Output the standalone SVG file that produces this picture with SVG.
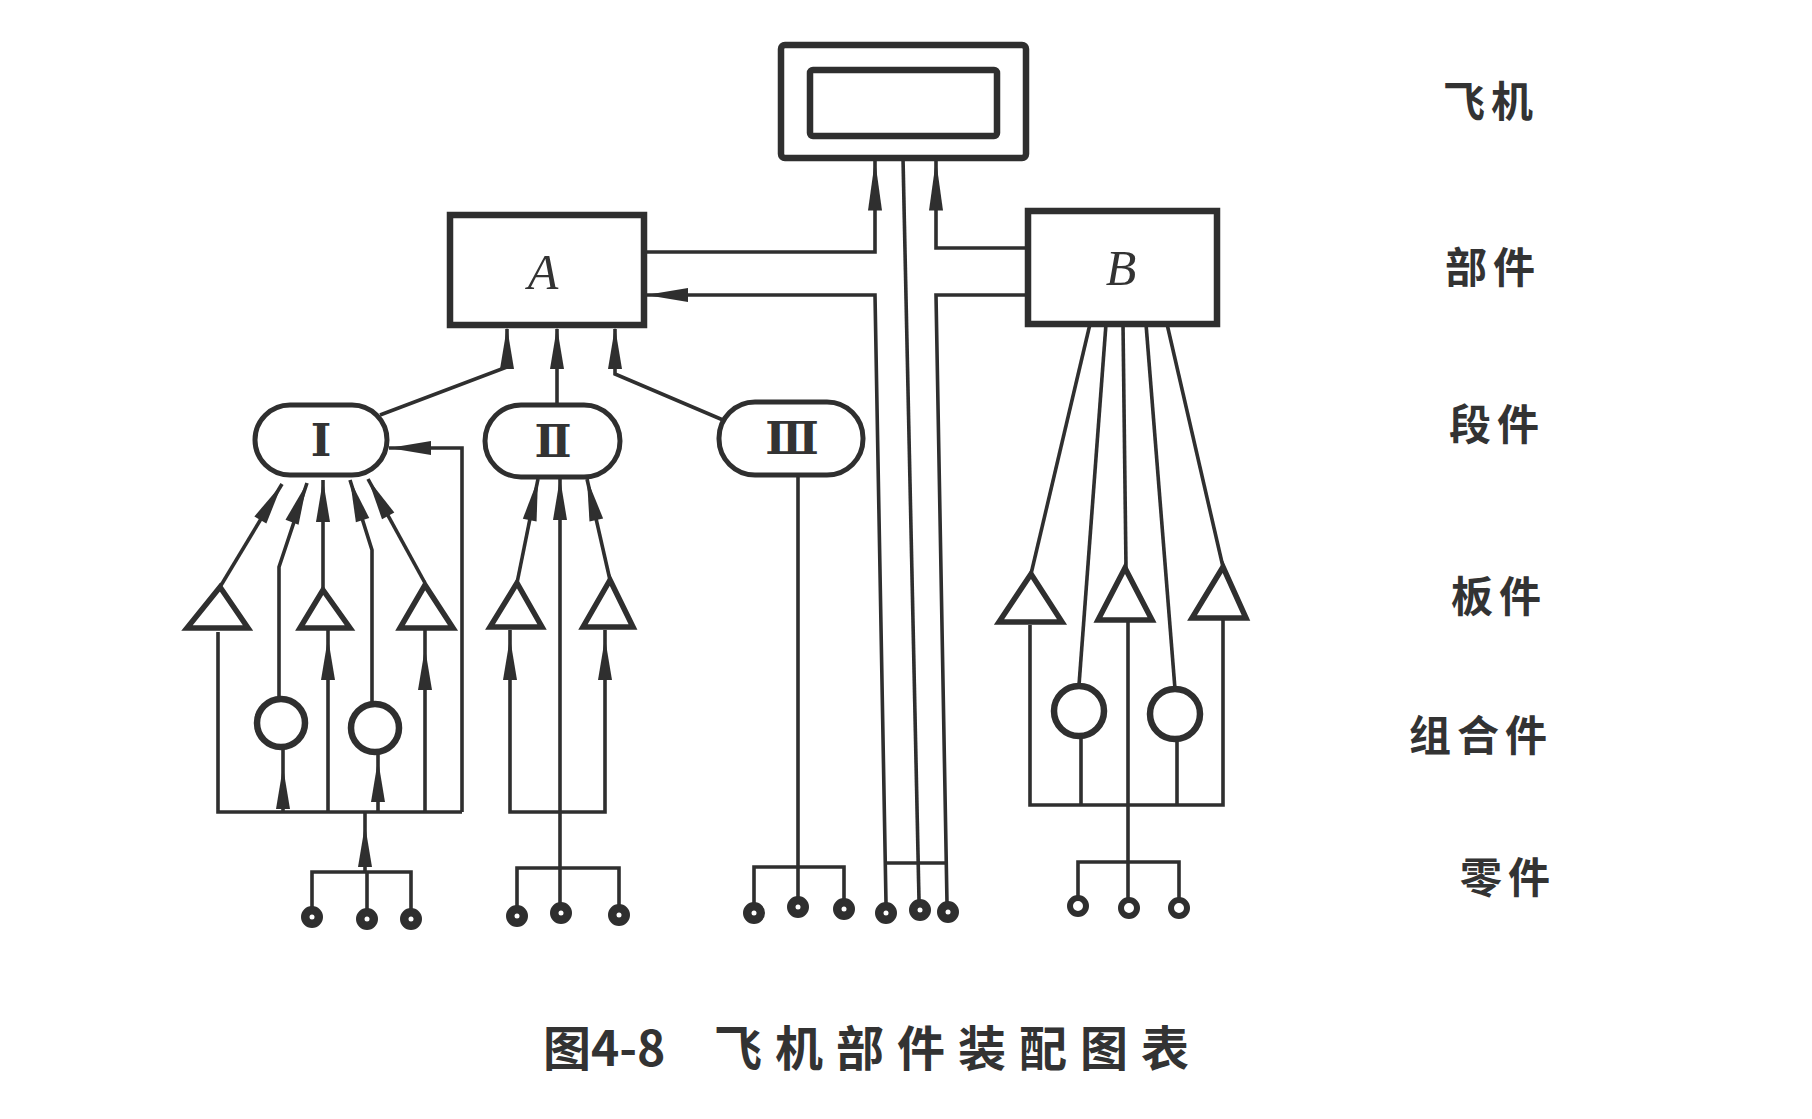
<svg xmlns="http://www.w3.org/2000/svg" xmlns:xlink="http://www.w3.org/1999/xlink" width="1812" height="1119" viewBox="0 0 1812 1119">
<style>
.ln{fill:none;stroke:#2f2f2f;stroke-width:3.6;stroke-linejoin:miter}
.box{fill:none;stroke:#2f2f2f;stroke-width:6.5}
.pill{fill:#fff;stroke:#2f2f2f;stroke-width:5}
.tri{fill:#fff;stroke:#2f2f2f;stroke-width:5.5;stroke-linejoin:miter}
.ring{fill:#fff;stroke:#2f2f2f;stroke-width:6.5}
.part{fill:#2f2f2f;stroke:#2f2f2f;stroke-width:2}
.partr{fill:#fff;stroke:#2f2f2f;stroke-width:6}
.ah{fill:#2f2f2f}
.lvl{font-family:"Noto Sans CJK SC",sans-serif;font-size:42px;font-weight:700;fill:#333;letter-spacing:6px}
.cap{font-family:"Noto Sans CJK SC",sans-serif;font-size:48px;font-weight:700;fill:#333}
.it{font-family:"Liberation Serif",serif;font-style:italic;font-size:50px;fill:#333}
.rn{font-family:"Liberation Serif","DejaVu Serif","Noto Sans CJK SC",serif;font-size:44px;font-weight:700;fill:#333}
</style>
<defs>
<path id="ah" class="ah" d="M0,0 L7,42 L-7,42 Z"/>
</defs>
<rect width="1812" height="1119" fill="#fff"/>

<g id="connectors">
  <path class="ln" d="M644,252 H875 V158"/>
  <path class="ln" d="M646,295 H875 L886,903"/>
  <path class="ln" d="M903,158 L919,900"/>
  <path class="ln" d="M1028,248 H936 V158"/>
  <path class="ln" d="M1028,295 H936 L947,903"/>
  <path class="ln" d="M885,863 H946"/>
  <path class="ln" d="M507,329 V367 L380,415"/>
  <path class="ln" d="M557,329 V405"/>
  <path class="ln" d="M615,329 V374 L723,420"/>
  <path class="ln" d="M389,448 H462 V812"/>
  <path class="ln" d="M220,587 L282,484"/>
  <path class="ln" d="M279,698 V567 L307,483"/>
  <path class="ln" d="M323,590 V480"/>
  <path class="ln" d="M372,703 V550 L350,480"/>
  <path class="ln" d="M425,583 L368,479"/>
  <path class="ln" d="M218,632 V812 H462"/>
  <path class="ln" d="M283,748 V812"/>
  <path class="ln" d="M328,630 V812"/>
  <path class="ln" d="M378,753 V812"/>
  <path class="ln" d="M425,630 V812"/>
  <path class="ln" d="M365,812 V872"/>
  <path class="ln" d="M312,907 V872 H411 V909"/>
  <path class="ln" d="M367,872 V909"/>
  <path class="ln" d="M517,583 L538,479"/>
  <path class="ln" d="M560,478 V903"/>
  <path class="ln" d="M610,580 L587,479"/>
  <path class="ln" d="M510,630 V812 H605 V630"/>
  <path class="ln" d="M517,906 V868 H619 V905"/>
  <path class="ln" d="M798,475 V897"/>
  <path class="ln" d="M754,903 V867 H844 V899"/>
  <path class="ln" d="M1090,324 L1031,574"/>
  <path class="ln" d="M1106,324 L1079,685"/>
  <path class="ln" d="M1123,324 L1126,568"/>
  <path class="ln" d="M1146,324 L1175,689"/>
  <path class="ln" d="M1167,324 L1223,567"/>
  <path class="ln" d="M1030,625 V805 H1223 V620"/>
  <path class="ln" d="M1081,737 V805"/>
  <path class="ln" d="M1177,740 V805"/>
  <path class="ln" d="M1128,622 V898"/>
  <path class="ln" d="M1078,896 V862 H1179 V898"/>
  <use xlink:href="#ah" transform="translate(875,160) scale(1,1.2)"/>
  <use xlink:href="#ah" transform="translate(936,160) scale(1,1.2)"/>
  <use xlink:href="#ah" transform="translate(646,295) rotate(-90)"/>
  <use xlink:href="#ah" transform="translate(507,327)"/>
  <use xlink:href="#ah" transform="translate(557,327)"/>
  <use xlink:href="#ah" transform="translate(615,327)"/>
  <use xlink:href="#ah" transform="translate(389,448) rotate(-90)"/>
  <use xlink:href="#ah" transform="translate(282,484) rotate(31)"/>
  <use xlink:href="#ah" transform="translate(307,483) rotate(20.9)"/>
  <use xlink:href="#ah" transform="translate(323,480)"/>
  <use xlink:href="#ah" transform="translate(350,480) rotate(-17.4)"/>
  <use xlink:href="#ah" transform="translate(368,479) rotate(-28.7)"/>
  <use xlink:href="#ah" transform="translate(538,479) rotate(11.4)"/>
  <use xlink:href="#ah" transform="translate(560,478)"/>
  <use xlink:href="#ah" transform="translate(587,479) rotate(-12.8)"/>
  <use xlink:href="#ah" transform="translate(283,767)"/>
  <use xlink:href="#ah" transform="translate(328,638)"/>
  <use xlink:href="#ah" transform="translate(378,760)"/>
  <use xlink:href="#ah" transform="translate(425,648)"/>
  <use xlink:href="#ah" transform="translate(365,825)"/>
  <use xlink:href="#ah" transform="translate(510,638)"/>
  <use xlink:href="#ah" transform="translate(605,638)"/>
</g>

<g id="airplane">
  <rect class="box" x="781" y="45" width="245" height="113" rx="4"/>
  <rect class="box" x="810" y="70" width="187" height="66" rx="3" stroke-width="5.5"/>
</g>
<g id="A">
  <rect class="box" x="450" y="215" width="194" height="110"/>
  <text class="it" x="543" y="289" text-anchor="middle">A</text>
</g>
<g id="B">
  <rect class="box" x="1028" y="211" width="189" height="113"/>
  <text class="it" x="1121" y="285" text-anchor="middle">B</text>
</g>
<g id="segI">
  <rect class="pill" x="255" y="405" width="132" height="70" rx="35"/>
  <text class="rn" x="321" y="456" text-anchor="middle">Ⅰ</text>
</g>
<g id="segII">
  <rect class="pill" x="485" y="405" width="135" height="72" rx="36"/>
  <text class="rn" x="553" y="457" text-anchor="middle">Ⅱ</text>
</g>
<g id="segIII">
  <rect class="pill" x="719" y="402" width="144" height="73" rx="36"/>
  <text class="rn" x="792" y="454" text-anchor="middle">Ⅲ</text>
</g>
<g id="panels">
  <polygon class="tri" points="220,587 248,628 187,628"/>
  <polygon class="tri" points="323,590 350,628 300,628"/>
  <polygon class="tri" points="425,585 453,628 400,628"/>
  <polygon class="tri" points="517,583 542,627 490,627"/>
  <polygon class="tri" points="610,580 633,627 583,627"/>
  <polygon class="tri" points="1031,574 1062,622 999,622"/>
  <polygon class="tri" points="1125,568 1152,620 1098,620"/>
  <polygon class="tri" points="1223,567 1246,618 1192,618"/>
</g>
<g id="assemblies">
  <circle class="ring" cx="281" cy="723" r="24"/>
  <circle class="ring" cx="375" cy="728" r="24"/>
  <circle class="ring" cx="1079" cy="711" r="25"/>
  <circle class="ring" cx="1175" cy="714" r="25"/>
</g>
<g id="parts">
  <circle class="part" cx="312" cy="917" r="10"/>
  <circle class="part" cx="367" cy="919" r="10"/>
  <circle class="part" cx="411" cy="919" r="10"/>
  <circle class="part" cx="517" cy="916" r="10"/>
  <circle class="part" cx="561" cy="913" r="10"/>
  <circle class="part" cx="619" cy="915" r="10"/>
  <circle class="part" cx="754" cy="913" r="10"/>
  <circle class="part" cx="798" cy="907" r="10"/>
  <circle class="part" cx="844" cy="909" r="10"/>
  <circle class="part" cx="886" cy="913" r="10"/>
  <circle class="part" cx="920" cy="910" r="10"/>
  <circle class="part" cx="948" cy="912" r="10"/>
  <circle class="partr" cx="1078" cy="906" r="8"/>
  <circle class="partr" cx="1129" cy="908" r="8"/>
  <circle class="partr" cx="1179" cy="908" r="8"/>
  <g fill="#fff">
    <circle cx="312" cy="917" r="2.5"/><circle cx="367" cy="919" r="2.5"/><circle cx="411" cy="919" r="2.5"/>
    <circle cx="517" cy="916" r="2.5"/><circle cx="561" cy="913" r="2.5"/><circle cx="619" cy="915" r="2.5"/>
    <circle cx="754" cy="913" r="2.5"/><circle cx="798" cy="907" r="2.5"/><circle cx="844" cy="909" r="2.5"/>
    <circle cx="886" cy="913" r="2.5"/><circle cx="920" cy="910" r="2.5"/><circle cx="948" cy="912" r="2.5"/>
  </g>
</g>
<g id="levels">
  <text class="lvl" x="1491" y="117" text-anchor="middle">飞机</text>
  <text class="lvl" x="1493" y="283" text-anchor="middle">部件</text>
  <text class="lvl" x="1497" y="440" text-anchor="middle">段件</text>
  <text class="lvl" x="1499" y="612" text-anchor="middle">板件</text>
  <text class="lvl" x="1481" y="751" text-anchor="middle">组合件</text>
  <text class="lvl" x="1508" y="893" text-anchor="middle">零件</text>
</g>
<g id="caption">
  <text class="cap" x="543" y="1066">图4-8</text>
  <text class="cap" x="714" y="1066" letter-spacing="13">飞机部件装配图表</text>
</g>
</svg>
